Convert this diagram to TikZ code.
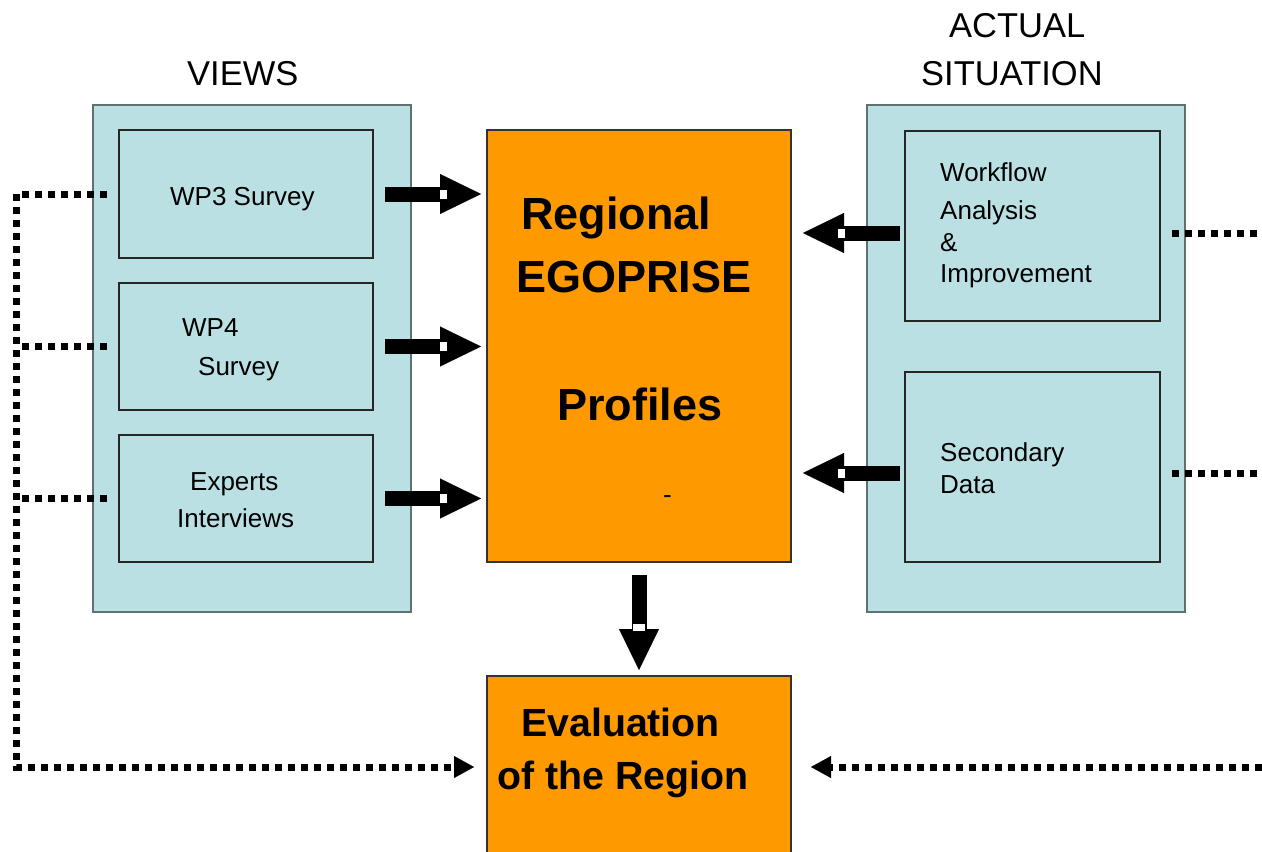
\documentclass[tikz,border=0pt]{standalone}
\usepackage{fontspec}
\setmainfont{Liberation Sans}
\usetikzlibrary{arrows.meta}
\definecolor{panelblue}{HTML}{BAE0E3}
\definecolor{paneledge}{HTML}{5F7272}
\definecolor{boxorange}{HTML}{FF9900}
\tikzset{
  panel/.style={draw=paneledge, line width=1.6pt, fill=panelblue, inner sep=0pt, outer sep=0pt},
  inbox/.style={draw=black!85, line width=1.2pt, fill=panelblue, inner sep=0pt, outer sep=0pt},
  orangebox/.style={draw=black!80, line width=1.6pt, fill=boxorange, inner sep=0pt, outer sep=0pt},
  smalltxt/.style={anchor=base west, inner sep=0pt, font=\fontsize{26}{30}\selectfont},
  headtxt/.style={anchor=base west, inner sep=0pt, font=\fontsize{34.5}{40}\selectfont},
  bigtxt/.style={anchor=base west, inner sep=0pt, font=\fontsize{45}{52}\selectfont\bfseries},
  midtxt/.style={anchor=base west, inner sep=0pt, font=\fontsize{39.3}{46}\selectfont\bfseries},
  blockarrow/.style={line width=15pt, -{Triangle[length=41pt,width=40pt,line width=0.1pt]}},
  dotline/.style={line width=7pt, dash pattern=on 7pt off 6pt},
  dottip/.style={line width=7pt, dash pattern=on 7pt off 6pt, -{Triangle[length=20pt,width=22pt,line width=0.1pt]}},
}
\begin{document}
\begin{tikzpicture}[x=1pt,y=-1pt]
\useasboundingbox (0,0) rectangle (1262,852);
\clip (0,0) rectangle (1262,852);
% panels
\node[panel, minimum width=318pt, minimum height=507pt] (views) at (252,358.5) {};
\node[panel, minimum width=318pt, minimum height=507pt] (actual) at (1026,358.5) {};
\node[inbox, minimum width=254pt, minimum height=128pt] (wp3) at (246,194) {};
\node[inbox, minimum width=254pt, minimum height=127pt] (wp4) at (246,346.5) {};
\node[inbox, minimum width=254pt, minimum height=127pt] (exp) at (246,498.5) {};
\node[inbox, minimum width=255pt, minimum height=190pt] (work) at (1032.5,226) {};
\node[inbox, minimum width=255pt, minimum height=190pt] (sec) at (1032.5,467) {};
\node[orangebox, minimum width=304pt, minimum height=432pt] (prof) at (639,346) {};
\node[orangebox, minimum width=304pt, minimum height=200pt] (eval) at (639,776) {};
% titles
\node[headtxt] (tviews) at (187,85) {VIEWS};
\node[headtxt] (tact1) at (949,37) {ACTUAL};
\node[headtxt] (tact2) at (921,85) {SITUATION};
% box texts
\node[smalltxt] (t1) at (170,205) {WP3 Survey};
\node[smalltxt] (t2a) at (182,336) {WP4};
\node[smalltxt] (t2b) at (198,375) {Survey};
\node[smalltxt] (t3a) at (190,490) {Experts};
\node[smalltxt] (t3b) at (177,527) {Interviews};
\node[smalltxt] (t4a) at (940,181) {Workflow};
\node[smalltxt] (t4b) at (940,219) {Analysis};
\node[smalltxt] (t4c) at (940,251) {\&};
\node[smalltxt] (t4d) at (940,282) {Improvement};
\node[smalltxt] (t5a) at (940,461) {Secondary};
\node[smalltxt] (t5b) at (940,493) {Data};
\node[bigtxt] (p1) at (521,229) {Regional};
\node[bigtxt] (p2) at (516,292) {EGOPRISE};
\node[bigtxt] (p3) at (557,420) {Profiles};
\node[smalltxt] (p4) at (663,503) {-};
\node[midtxt] (e1) at (521,736) {Evaluation};
\node[midtxt] (e2) at (497,789) {of the Region};
% block arrows (canvas yshift: negative = downwards)
\foreach \b in {wp3,wp4,exp}{
  \draw[blockarrow] ([xshift=12pt]\b.east) -- ([xshift=-6pt]\b.east -| prof.west);
  \fill[white] ([xshift=67pt,yshift=-4.5pt]\b.east) rectangle ([xshift=74pt,yshift=4.5pt]\b.east);
}
\draw[blockarrow] ([xshift=-5pt,yshift=-7pt]work.west) -- ([xshift=12pt,yshift=-7pt]work.west -| prof.east);
\fill[white] ([xshift=-60pt,yshift=-2.5pt]work.west) rectangle ([xshift=-67pt,yshift=-11.5pt]work.west);
\draw[blockarrow] ([xshift=-5pt,yshift=-6pt]sec.west) -- ([xshift=12pt,yshift=-6pt]sec.west -| prof.east);
\fill[white] ([xshift=-60pt,yshift=-1.5pt]sec.west) rectangle ([xshift=-67pt,yshift=-10.5pt]sec.west);
\draw[blockarrow] ([yshift=-13pt]prof.south) -- ([yshift=6pt]eval.north);
\fill[white] ([xshift=-6pt,yshift=-62pt]prof.south) rectangle ([xshift=6pt,yshift=-69pt]prof.south);
% dotted feedback lines
\coordinate (lc) at (16,767);
\draw[dottip] ([xshift=14pt]wp3.west -| views.west) -- (16,194) -- (lc) -- ([xshift=-13pt]lc -| eval.west);
\draw[dotline] ([xshift=14pt]wp4.west -| views.west) -- (wp4.west -| lc);
\draw[dotline] ([xshift=14pt]exp.west -| views.west) -- (exp.west -| lc);
\coordinate (rc) at (1262,767);
\draw[dottip] (rc) -- ([xshift=20pt]lc -| eval.east);
\draw[dotline] ([xshift=12pt,yshift=-7pt]work.east) -- ([yshift=-7pt]work.east -| rc);
\draw[dotline] ([xshift=12pt,yshift=-6pt]sec.east) -- ([yshift=-6pt]sec.east -| rc);
\end{tikzpicture}
\end{document}
